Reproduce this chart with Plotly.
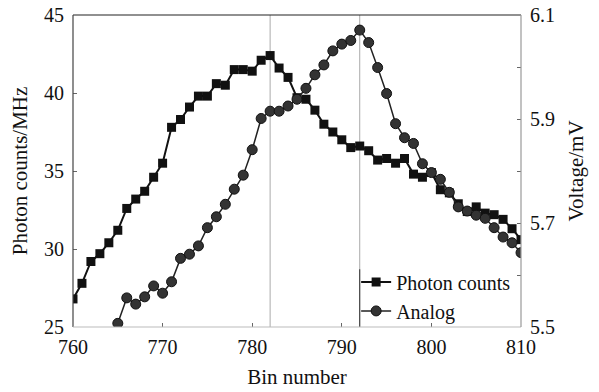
import plotly.graph_objects as go

bins_photon = list(range(760, 811))
photon_counts = [26.8, 27.8, 29.2, 29.7, 30.4, 31.2, 32.6, 33.2, 33.7, 34.6,
                 35.5, 37.8, 38.3, 39.1, 39.8, 39.8, 40.6, 40.5, 41.5, 41.5,
                 41.4, 42.1, 42.4, 41.6, 41.0, 39.7, 39.6, 38.9, 38.0, 37.5,
                 37.0, 36.5, 36.6, 36.3, 35.7, 35.8, 35.5, 35.8, 34.8, 34.6,
                 34.9, 33.8, 33.6, 32.9, 32.4, 32.7, 32.3, 32.2, 31.9, 31.3,
                 30.6]

bins_analog = list(range(765, 811))
analog_mv = [5.507, 5.556, 5.544, 5.558, 5.579, 5.565, 5.587, 5.632, 5.640, 5.656,
             5.691, 5.712, 5.736, 5.765, 5.792, 5.841, 5.901, 5.915, 5.915, 5.925,
             5.938, 5.959, 5.985, 6.004, 6.031, 6.044, 6.051, 6.071, 6.047, 5.999,
             5.949, 5.891, 5.864, 5.853, 5.814, 5.797, 5.784, 5.759, 5.731, 5.723,
             5.715, 5.709, 5.691, 5.673, 5.662, 5.643]

x_ticks = [760, 770, 780, 790, 800, 810]
y_left_ticks = [25, 30, 35, 40, 45]
y_right_ticks = [5.5, 5.6, 5.7, 5.8, 5.9, 6.0, 6.1]
y_right_labels = ["5.5", "", "5.7", "", "5.9", "", "6.1"]
marker_bins = [782, 792]

FONT = "Liberation Serif"


def tf(size):
    return dict(family=FONT, size=size, color="#111")


fig = go.Figure()
fig.add_trace(go.Scatter(
    x=bins_photon, y=photon_counts, name="Photon counts", mode="lines+markers",
    line=dict(color="#111", width=2),
    marker=dict(symbol="square", size=9, color="#111"),
    yaxis="y"))
fig.add_trace(go.Scatter(
    x=bins_analog, y=analog_mv, name="Analog", mode="lines+markers",
    line=dict(color="#222", width=1.5),
    marker=dict(symbol="circle", size=10, color="#333", line=dict(color="#111", width=1)),
    yaxis="y2"))

shapes = []
for b in marker_bins:
    shapes.append(dict(type="line", xref="x", yref="paper", x0=b, x1=b, y0=0, y1=1,
                       line=dict(color="#aaa", width=1), layer="below"))
shapes.append(dict(type="line", xref="x", yref="paper", x0=792, x1=792, y0=0, y1=0.185,
                   line=dict(color="#333", width=1)))
# frame
shapes += [
    dict(type="line", xref="paper", yref="paper", x0=0, x1=1, y0=1, y1=1, line=dict(color="#222", width=1.2)),
    dict(type="line", xref="paper", yref="paper", x0=0, x1=0, y0=0, y1=1, line=dict(color="#444", width=1.2)),
    dict(type="line", xref="paper", yref="paper", x0=0, x1=1, y0=0, y1=0, line=dict(color="#bbb", width=1)),
    dict(type="line", xref="paper", yref="paper", x0=1, x1=1, y0=0, y1=1, line=dict(color="#999", width=1.2)),
]

fig.update_layout(
    width=599, height=392,
    margin=dict(l=73, r=78, t=15, b=65, autoexpand=False),
    paper_bgcolor="white", plot_bgcolor="white",
    font=dict(family=FONT, size=20, color="#111"),
    showlegend=True,
    legend=dict(x=0.632, y=0.207, xanchor="left", yanchor="top",
                bgcolor="rgba(0,0,0,0)", font=tf(20),
                itemwidth=30, tracegroupgap=0),
    xaxis=dict(range=[760, 810], tickvals=x_ticks, ticks="inside", ticklen=4,
               tickcolor="#666", showgrid=False, zeroline=False, showline=False,
               ticklabelstandoff=6, tickfont=tf(20), automargin=False,
               title=dict(text="Bin number", standoff=12, font=tf(21))),
    yaxis=dict(range=[25, 45], tickvals=y_left_ticks, ticks="inside", ticklen=4,
               tickcolor="#666", showgrid=False, zeroline=False, showline=False,
               ticklabelstandoff=8, tickfont=tf(20), automargin=False,
               title=dict(text="Photon counts/MHz", standoff=10, font=tf(21))),
    yaxis2=dict(range=[5.5, 6.1], tickvals=y_right_ticks, ticktext=y_right_labels,
                ticks="inside", ticklen=4,
                tickcolor="#666", overlaying="y", side="right", showgrid=False,
                zeroline=False, showline=False, ticklabelstandoff=8, tickfont=tf(20),
                automargin=False,
                title=dict(text="Voltage/mV", standoff=14, font=tf(21))),
    shapes=shapes,
)

fig.write_html("out.html")
